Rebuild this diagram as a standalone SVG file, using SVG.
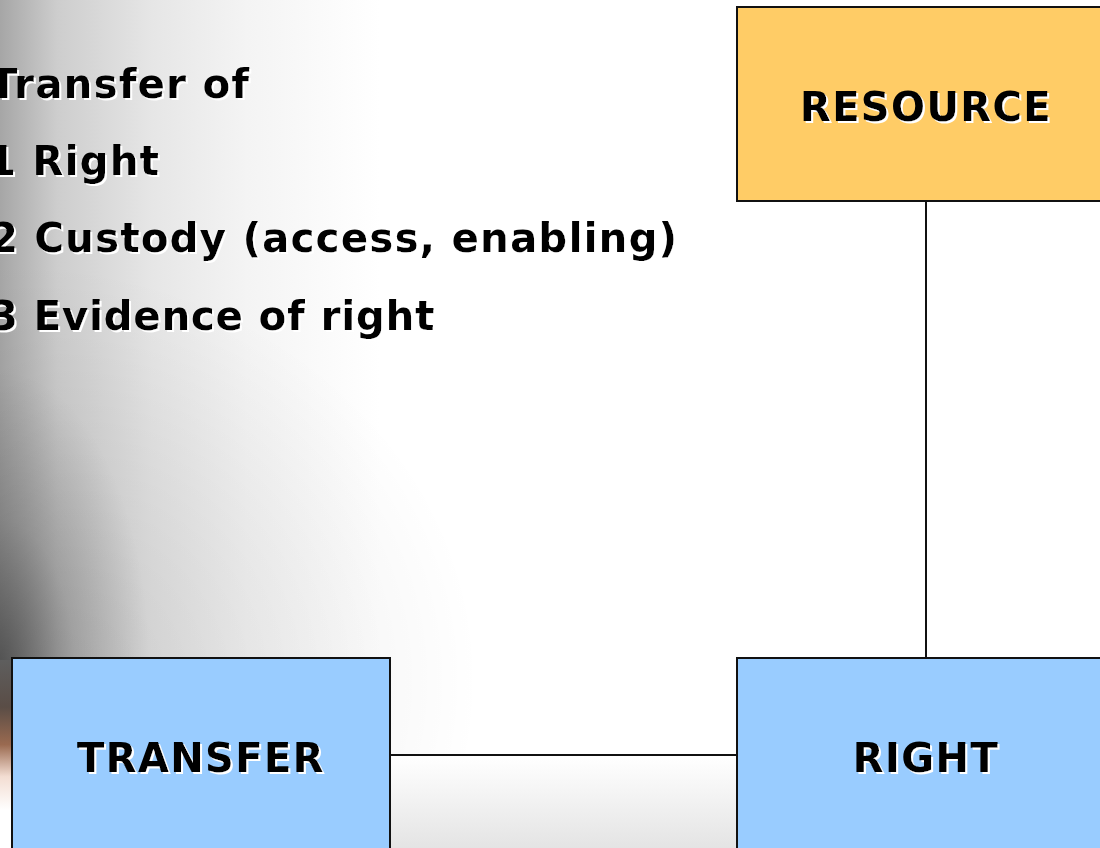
<svg xmlns="http://www.w3.org/2000/svg" width="1100" height="848" viewBox="0 0 1100 848">
<defs>
<linearGradient id="bgx" gradientUnits="userSpaceOnUse" x1="0" y1="0" x2="380" y2="0">
<stop offset="0" stop-color="#a6a6a6"/>
<stop offset="0.15" stop-color="#cdcdcd"/>
<stop offset="0.4" stop-color="#e6e6e6"/>
<stop offset="0.65" stop-color="#f4f4f4"/>
<stop offset="1" stop-color="#ffffff"/>
</linearGradient>
<radialGradient id="dark" gradientUnits="userSpaceOnUse" cx="0" cy="0" r="1" gradientTransform="translate(0 670) scale(150 300)">
<stop offset="0" stop-color="#000" stop-opacity="0.45"/>
<stop offset="0.5" stop-color="#000" stop-opacity="0.15"/>
<stop offset="1" stop-color="#000" stop-opacity="0"/>
</radialGradient>
<radialGradient id="soft" gradientUnits="userSpaceOnUse" cx="0" cy="0" r="1" gradientTransform="translate(0 680) scale(480 420)">
<stop offset="0" stop-color="#000" stop-opacity="0.12"/>
<stop offset="0.6" stop-color="#000" stop-opacity="0.05"/>
<stop offset="1" stop-color="#000" stop-opacity="0"/>
</radialGradient>
<linearGradient id="bot" x1="0" y1="0" x2="0" y2="1">
<stop offset="0" stop-color="#ffffff"/>
<stop offset="1" stop-color="#e4e4e4"/>
</linearGradient>
<linearGradient id="strip" x1="0" y1="0" x2="0" y2="1">
<stop offset="0" stop-color="#5e5e5e"/>
<stop offset="0.25" stop-color="#5a4d46"/>
<stop offset="0.45" stop-color="#9a6a50"/>
<stop offset="0.62" stop-color="#f3ddd2"/>
<stop offset="0.8" stop-color="#ffffff"/>
<stop offset="1" stop-color="#ffffff"/>
</linearGradient>
<filter id="shadow" x="-5%" y="-20%" width="110%" height="140%">
<feOffset in="SourceAlpha" dx="1.5" dy="1.5" result="off"/>
<feFlood flood-color="#ffffff"/>
<feComposite in2="off" operator="in" result="sh"/>
<feMerge><feMergeNode in="sh"/><feMergeNode in="SourceGraphic"/></feMerge>
</filter>
</defs>
<style>
.t{font-family:"DejaVu Sans","Liberation Sans",sans-serif;font-weight:bold;font-size:40px;fill:#000;letter-spacing:1.4px;filter:url(#shadow)}
.t.n{letter-spacing:1px}
.box{stroke:#111;stroke-width:2}
.res{fill:#ffcc66}
.blue{fill:#99ccff}
.conn{stroke:#111;stroke-width:2;fill:none}
</style>
<rect x="0" y="0" width="1100" height="848" fill="#ffffff"/>
<rect x="0" y="0" width="380" height="848" fill="url(#bgx)"/>
<rect x="0" y="250" width="500" height="598" fill="url(#soft)"/>
<rect x="0" y="360" width="160" height="488" fill="url(#dark)"/>
<rect x="390" y="756" width="347" height="92" fill="url(#bot)"/>
<rect x="0" y="660" width="12" height="188" fill="url(#strip)"/>
<g id="list">
<text class="t" x="-10" y="98">Transfer of</text>
<text class="t" x="-12" y="175">1 Right</text>
<text class="t" x="-10" y="252">2 Custody (access, enabling)</text>
<text class="t n" x="-10" y="330">3 Evidence of right</text>
</g>
<g id="connectors">
<line class="conn" x1="926" y1="201" x2="926" y2="658"/>
<line class="conn" x1="390" y1="755" x2="737" y2="755"/>
</g>
<g id="resource">
<rect class="box res" x="737" y="7" width="380" height="194"/>
<text class="t" x="926" y="121" text-anchor="middle">RESOURCE</text>
</g>
<g id="transfer">
<rect class="box blue" x="12" y="658" width="378" height="200"/>
<text class="t" x="201" y="772" text-anchor="middle">TRANSFER</text>
</g>
<g id="right">
<rect class="box blue" x="737" y="658" width="380" height="200"/>
<text class="t" x="926" y="772" text-anchor="middle">RIGHT</text>
</g>
</svg>
